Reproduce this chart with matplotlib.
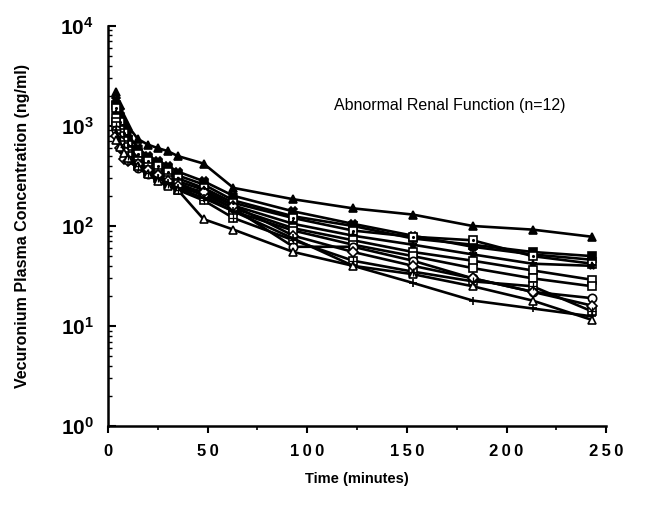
#!/usr/bin/env python3

import matplotlib

matplotlib.use("Agg")
import matplotlib.pyplot as plt
from matplotlib.ticker import FixedLocator, NullFormatter


# sampling times (minutes)
TIMES = [4, 6, 8, 10, 15, 20, 25, 30, 35, 48, 63, 93, 123, 153, 183, 213, 243]

# plasma concentration (ng/ml), one list per patient
P_TRI_FILLED = [2200, 1600, 1200, 1000, 740, 650, 600, 560, 500, 420, 240, 185, 150, 130, 100, 92, 78]
P_X = [1800, 1400, 1000, 820, 600, 500, 450, 400, 350, 280, 200, 140, 105, 80, 62, 52, 46]
P_SQ_FILLED = [1600, 1200, 900, 720, 550, 470, 420, 370, 320, 260, 180, 125, 100, 75, 65, 55, 50]
P_SQ_DOT = [1500, 1100, 850, 650, 520, 450, 400, 350, 300, 240, 170, 120, 90, 78, 72, 50, 42]
P_STAR = [1300, 1000, 800, 620, 480, 400, 350, 310, 280, 230, 160, 105, 80, 65, 52, 42, 40]
P_SQ_OPEN_A = [1200, 900, 700, 560, 450, 390, 340, 300, 270, 210, 150, 95, 72, 55, 45, 36, 29]
P_SQ_OPEN_B = [1100, 850, 650, 520, 420, 360, 320, 290, 260, 200, 140, 90, 65, 50, 38, 30, 25]
P_SQ_CROSS = [1000, 800, 620, 500, 400, 340, 300, 260, 230, 180, 120, 72, 45, 35, 28, 25, 14]
P_CIRCLE = [900, 700, 560, 460, 380, 330, 290, 260, 240, 210, 150, 62, 62, 45, 30, 22, 19]
P_DIAMOND = [800, 600, 470, 450, 420, 360, 320, 280, 250, 220, 160, 80, 55, 40, 30, 22, 16]
P_PLUS = [900, 700, 550, 450, 380, 330, 300, 270, 240, 190, 140, 75, 40, 27, 18, 15, 12.5]
P_TRI_OPEN = [720, 620, 540, 480, 400, 330, 280, 250, 230, 117, 92, 55, 40, 33, 25, 18, 11.5]

X_TICKS = [0, 50, 100, 150, 200, 250]
Y_TICKS = [1, 10, 100, 1000, 10000]
Y_TICK_LABELS = [r"$10^{0}$", r"$10^{1}$", r"$10^{2}$", r"$10^{3}$", r"$10^{4}$"]


def main() -> None:
    plt.rcParams.update(
        {
            "font.family": ["Liberation Sans", "DejaVu Sans"],
            "mathtext.fontset": "custom",
            "mathtext.rm": "Liberation Sans:bold",
            "mathtext.it": "Liberation Sans:bold",
            "mathtext.bf": "Liberation Sans:bold",
        }
    )

    fig = plt.figure(figsize=(6.54, 5.05), dpi=100)
    ax = fig.add_axes([0.165, 0.156, 0.762, 0.793])

    series = [
        (P_TRI_FILLED, dict(marker="^", mfc="black")),
        (P_X, dict(marker="X", mfc="black")),
        (P_SQ_FILLED, dict(marker="s", mfc="black")),
        (P_SQ_DOT, dict(marker="s", mfc="white")),
        (P_STAR, dict(marker="*", mfc="black")),
        (P_SQ_OPEN_A, dict(marker="s", mfc="white")),
        (P_SQ_OPEN_B, dict(marker="s", mfc="white")),
        (P_SQ_CROSS, dict(marker="s", mfc="white")),
        (P_CIRCLE, dict(marker="o", mfc="white")),
        (P_DIAMOND, dict(marker="D", mfc="white")),
        (P_PLUS, dict(marker="+", mfc="black")),
        (P_TRI_OPEN, dict(marker="^", mfc="white")),
    ]
    for values, style in series:
        ms = 6 if style["marker"] != "D" else 5
        ax.plot(TIMES, values, color="black", linewidth=1.9, markersize=ms,
                markeredgecolor="black", markeredgewidth=1.2, **style)

    # inner marks for the dotted and crossed squares
    ax.plot(TIMES, P_SQ_DOT, linestyle="none", marker=".", color="black", markersize=2.5)
    ax.plot(TIMES, P_SQ_CROSS, linestyle="none", marker="+", color="black",
            markersize=6, markeredgewidth=0.9)

    ax.set_yscale("log")
    ax.set_xlim(0, 250)
    ax.set_ylim(1, 10000)

    ax.xaxis.set_major_locator(FixedLocator(X_TICKS))
    ax.xaxis.set_minor_locator(FixedLocator([25, 75, 125, 175, 225]))
    ax.set_xticklabels(["\u2009".join(str(t)) for t in X_TICKS], fontsize=12, fontweight="bold")

    ax.yaxis.set_major_locator(FixedLocator(Y_TICKS))
    minor = [m * 10 ** e for e in range(0, 4) for m in range(2, 10)]
    ax.yaxis.set_minor_locator(FixedLocator(minor))
    ax.yaxis.set_minor_formatter(NullFormatter())
    ax.set_yticklabels(Y_TICK_LABELS, fontsize=15)

    ax.tick_params(axis="x", which="major", direction="out", length=5, width=1.5, pad=8)
    ax.tick_params(axis="x", which="minor", direction="out", length=3, width=1.2)
    ax.tick_params(axis="y", which="major", direction="in", length=6, width=1.5, pad=10)
    ax.tick_params(axis="y", which="minor", direction="in", length=3, width=1.0)

    for side in ("top", "right"):
        ax.spines[side].set_visible(False)
    for side in ("left", "bottom"):
        ax.spines[side].set_linewidth(1.8)

    ax.set_xlabel("Time (minutes)", fontsize=10.5, fontweight="bold", labelpad=9)
    ax.set_ylabel("Vecuronium Plasma Concentration (ng/ml)", fontsize=11.5,
                  fontweight="bold", labelpad=22)
    ax.text(0.685, 0.80, "Abnormal Renal Function (n=12)", transform=ax.transAxes,
            ha="center", va="center", fontsize=11.5)

    fig.savefig("out.png", dpi=100)
    plt.close(fig)


if __name__ == "__main__":
    main()
